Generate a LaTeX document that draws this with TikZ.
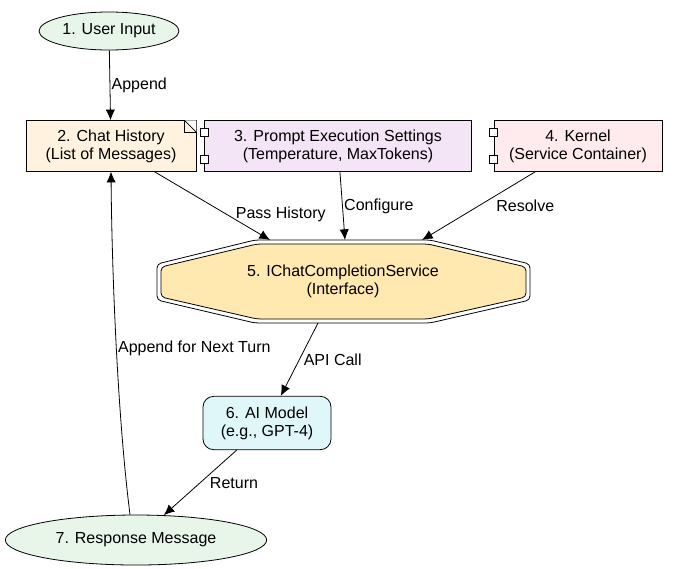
\documentclass[tikz,border=0pt]{standalone}
\usepackage{fontspec}
\setmainfont{Liberation Sans}
\usetikzlibrary{shapes.geometric,arrows.meta}
\definecolor{cgreen}{HTML}{E8F5E9}
\definecolor{corange}{HTML}{FFF3E0}
\definecolor{cpurple}{HTML}{F3E5F5}
\definecolor{cpink}{HTML}{FFEBEE}
\definecolor{cyellow}{HTML}{FFE9B0}
\definecolor{ccyan}{HTML}{E0F7FA}
\begin{document}
\begin{tikzpicture}[x=0.75pt, y=-0.75pt, font=\fontsize{12}{13.5}\selectfont, line width=0.6pt,
    every node/.style={align=center},
    ell/.style={ellipse, draw, fill=cgreen, inner sep=0pt},
    box/.style={rectangle, draw, inner sep=0pt},
    lbl/.style={inner sep=1pt},
    arr/.style={-{Latex[length=8pt,width=7pt]}}]
    \useasboundingbox (0,0) rectangle (680,568);

    % double octagon for the service
    \draw[fill=white, rounded corners=3pt] (255,240) -- (430,240) -- (530,264) -- (530,300) -- (430,323) -- (255,323) -- (157,300) -- (157,264) -- cycle;
    \draw[fill=cyellow, rounded corners=3pt] (257,244) -- (428,244) -- (526,267) -- (526,297) -- (428,319) -- (257,319) -- (161,297) -- (161,267) -- cycle;

    \node[ell, minimum width=105pt, minimum height=28.5pt] (user) at (109,31) {1. User Input};
    \node[box, fill=corange, minimum width=127.5pt, minimum height=38pt] (hist) at (111,146) {2. Chat History\\(List of Messages)};
    \node[box, fill=cpurple, minimum width=200pt, minimum height=38pt] (sett) at (338,146) {3. Prompt Execution Settings\\(Temperature, MaxTokens)};
    \node[box, fill=cpink, minimum width=126pt, minimum height=38pt] (kern) at (578,146) {4. Kernel\\(Service Container)};
    \node (svc) at (343,281) {5. IChatCompletionService\\(Interface)};
    \node[box, rounded corners=8pt, fill=ccyan, minimum width=96pt, minimum height=40pt] (model) at (267,423) {6. AI Model\\(e.g., GPT-4)};
    \node[ell, minimum width=196pt, minimum height=37.5pt] (resp) at (136,540) {7. Response Message};

    % note fold
    \fill[white] ([xshift=-9pt]hist.north east) -- (hist.north east) -- ([yshift=-9pt]hist.north east) -- cycle;
    \draw ([xshift=-9pt]hist.north east) -- ([xshift=-9pt,yshift=-9pt]hist.north east) -- ([yshift=-9pt]hist.north east);
    \draw ([xshift=-9pt]hist.north east) -- ([yshift=-9pt]hist.north east);
    % component tabs
    \foreach \n in {sett, kern} {
        \draw[fill=white] ([xshift=-3pt,yshift=-6pt]\n.north west) rectangle ([xshift=3pt,yshift=-12pt]\n.north west);
        \draw[fill=white] ([xshift=-3pt,yshift=6pt]\n.south west) rectangle ([xshift=3pt,yshift=12pt]\n.south west);
    }

    \draw[arr] (user) -- (hist) node[midway, right=0pt, lbl] {Append};
    \draw[arr] (hist) -- (270,240) node[pos=0.62, right=6pt, lbl] {Pass History};
    \draw[arr] (sett) -- (345,240) node[midway, right=0pt, lbl] {Configure};
    \draw[arr] (kern) -- (422,240) node[pos=0.5, right=12pt, lbl] {Resolve};
    \draw[arr] (318,323) -- (model) node[midway, right=2pt, lbl] {API Call};
    \draw[arr] (model) -- (resp) node[midway, right=6pt, lbl] {Return};
    \draw[arr] (resp.north) ++(-6,0) .. controls (118,420) and (112,280) .. (hist.south)
        node[pos=0.5, right=0pt, lbl] {Append for Next Turn};
\end{tikzpicture}
\end{document}
